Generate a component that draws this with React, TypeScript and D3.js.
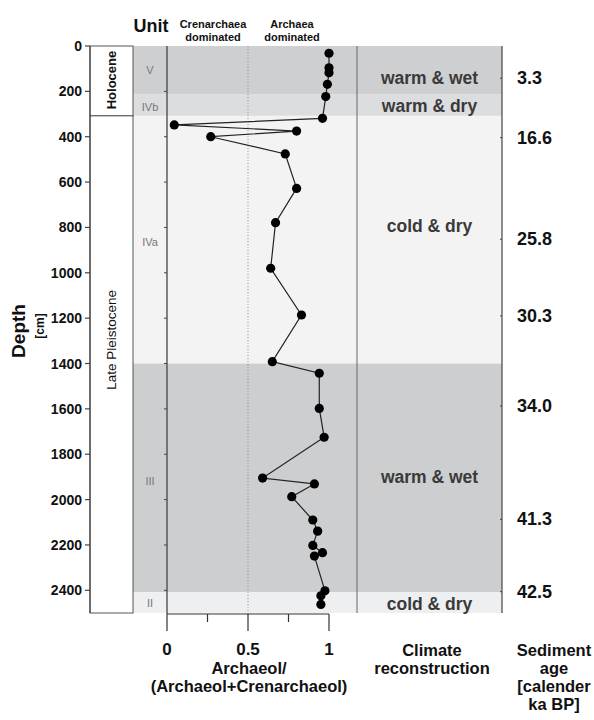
import React from "react";
import * as d3 from "d3";

// sample depth (cm) and archaeol / (archaeol + crenarchaeol)
const sampleDepth = [32, 96, 118, 169, 223, 319, 348, 375, 400, 476, 628, 779, 980, 1186, 1392, 1443, 1598, 1725, 1905, 1931, 1987, 2090, 2139, 2202, 2234, 2249, 2402, 2424, 2462];
const archaeolRatio = [1.0, 1.0, 1.0, 0.99, 0.98, 0.96, 0.045, 0.8, 0.27, 0.73, 0.8, 0.67, 0.64, 0.83, 0.65, 0.94, 0.94, 0.97, 0.59, 0.91, 0.77, 0.9, 0.93, 0.9, 0.96, 0.91, 0.975, 0.95, 0.95];

const unitNames = ["V", "IVb", "IVa", "III", "II"];
const unitTop = [0, 212, 308, 1400, 2408];
const unitBottom = [212, 308, 1400, 2408, 2500];
const unitLabelDepth = [106, 269, 864, 1918, 2456];

const climateNames = ["warm & wet", "warm & dry", "cold & dry", "warm & wet", "cold & dry"];
const climateLabelDepth = [141, 265, 794, 1900, 2462];

const epochNames = ["Holocene", "Late Pleistocene"];
const epochTop = [0, 308];
const epochBottom = [308, 2500];
const epochLabelDepth = [150, 1296];

const ageLabels = ["3.3", "16.6", "25.8", "30.3", "34.0", "41.3", "42.5"];
const ageDepth = [142, 404, 852, 1190, 1587, 2087, 2406];

const depthTicks = [0, 200, 400, 600, 800, 1000, 1200, 1400, 1600, 1800, 2000, 2200, 2400];
const ratioTicks = [0, 0.25, 0.5, 0.75, 1];
const ratioTickLabels = ["0", "", "0.5", "", "1"];

const bandColors = ["#cecfd1", "#dcdddf", "#f3f3f3", "#cdcecf", "#eeeff1"];

const FONT = "Arial, 'Liberation Sans', Helvetica, sans-serif";

export default function App() {
  const width = 594;
  const height = 720;

  const y = d3.scaleLinear().domain([0, 2500]).range([46, 613]);
  const x = d3.scaleLinear().domain([0, 1]).range([167, 329]);

  const depthAxisX = 90;
  const unitColX = 133;
  const climateX = 357;
  const ageAxisX = 502;
  const axisY = 614;

  const points = sampleDepth.map((d, i) => [x(archaeolRatio[i]), y(d)] as [number, number]);
  const line = d3.line()(points);

  return (
    <svg
      width={width}
      height={height}
      style={{ position: "absolute", left: 0, top: 0, background: "#fff" }}
      fontFamily={FONT}
    >
      {/* unit / climate bands */}
      {unitNames.map((u, i) => (
        <rect
          key={u}
          x={unitColX}
          y={y(unitTop[i])}
          width={ageAxisX - unitColX}
          height={y(unitBottom[i]) - y(unitTop[i])}
          fill={bandColors[i]}
        />
      ))}

      {/* epoch column */}
      {epochNames.map((e, i) => (
        <rect
          key={e}
          x={depthAxisX}
          y={y(epochTop[i])}
          width={unitColX - depthAxisX}
          height={y(epochBottom[i]) - y(epochTop[i])}
          fill="#fff"
          stroke="#555"
          strokeWidth={1}
        />
      ))}
      {epochNames.map((e, i) => (
        <text
          key={e}
          transform={`translate(${(depthAxisX + unitColX) / 2},${y(epochLabelDepth[i])}) rotate(-90)`}
          textAnchor="middle"
          dominantBaseline="central"
          fontSize={i === 0 ? 13 : 13.5}
          fontWeight={i === 0 ? "bold" : "normal"}
          fill="#111"
        >
          {e}
        </text>
      ))}

      {/* unit labels */}
      {unitNames.map((u, i) => (
        <text
          key={u}
          x={(unitColX + 167) / 2}
          y={y(unitLabelDepth[i])}
          textAnchor="middle"
          dominantBaseline="central"
          fontSize={11}
          fill="#777"
        >
          {u}
        </text>
      ))}

      {/* depth axis */}
      <line x1={depthAxisX} x2={depthAxisX} y1={y(0)} y2={y(2500)} stroke="#444" strokeWidth={1.2} />
      {depthTicks.map((t) => (
        <g key={t}>
          <line x1={depthAxisX - 5} x2={depthAxisX} y1={y(t)} y2={y(t)} stroke="#444" strokeWidth={1.2} />
          <text
            x={depthAxisX - 8}
            y={y(t)}
            textAnchor="end"
            dominantBaseline="central"
            fontSize={14}
            fontWeight="bold"
            fill="#111"
          >
            {t}
          </text>
        </g>
      ))}
      <text
        transform={`translate(18,331) rotate(-90)`}
        textAnchor="middle"
        dominantBaseline="central"
        fontSize={19}
        fontWeight="bold"
        fill="#111"
      >
        Depth
      </text>
      <text
        transform={`translate(40,326) rotate(-90)`}
        textAnchor="middle"
        dominantBaseline="central"
        fontSize={12}
        fontWeight="bold"
        fill="#111"
      >
        [cm]
      </text>

      {/* 0.5 reference */}
      <line x1={x(0.5)} x2={x(0.5)} y1={y(0)} y2={axisY} stroke="#888" strokeWidth={0.8} strokeDasharray="1.2,1.8" />

      {/* ratio plot left axis */}
      <line x1={x(0)} x2={x(0)} y1={y(0)} y2={axisY} stroke="#444" strokeWidth={1.3} />
      {depthTicks.slice(1).map((t) => (
        <line key={t} x1={x(0) - 3} x2={x(0)} y1={y(t)} y2={y(t)} stroke="#444" strokeWidth={1} />
      ))}

      {/* climate separator and age axis */}
      <line x1={climateX} x2={climateX} y1={y(0)} y2={y(2500)} stroke="#666" strokeWidth={1} />
      <line x1={ageAxisX} x2={ageAxisX} y1={y(0)} y2={y(2500)} stroke="#444" strokeWidth={1.2} />
      {ageDepth.map((d, i) => (
        <g key={ageLabels[i]}>
          <line x1={ageAxisX - 2} x2={ageAxisX} y1={y(d)} y2={y(d)} stroke="#444" strokeWidth={1} />
          <text
            x={ageAxisX + 15}
            y={y(d)}
            dominantBaseline="central"
            fontSize={18}
            fontWeight="bold"
            fill="#111"
          >
            {ageLabels[i]}
          </text>
        </g>
      ))}

      {/* climate labels */}
      {climateNames.map((c, i) => (
        <text
          key={i}
          x={(climateX + ageAxisX) / 2}
          y={y(climateLabelDepth[i])}
          textAnchor="middle"
          dominantBaseline="central"
          fontSize={17.5}
          fontWeight="bold"
          fill="#3a3a3a"
        >
          {c}
        </text>
      ))}

      {/* data */}
      <path d={line ?? ""} fill="none" stroke="#222" strokeWidth={1.2} />
      {points.map((p, i) => (
        <circle key={i} cx={p[0]} cy={p[1]} r={4.6} fill="#000" />
      ))}

      {/* bottom axis */}
      <line x1={x(0)} x2={x(1)} y1={axisY} y2={axisY} stroke="#333" strokeWidth={1.2} />
      {ratioTicks.map((t, i) => (
        <g key={t}>
          <line
            x1={x(t)}
            x2={x(t)}
            y1={axisY}
            y2={axisY + (ratioTickLabels[i] ? 17 : 8)}
            stroke="#333"
            strokeWidth={1.2}
          />
          {ratioTickLabels[i] && (
            <text x={x(t)} y={655} textAnchor="middle" fontSize={17} fontWeight="bold" fill="#111">
              {ratioTickLabels[i]}
            </text>
          )}
        </g>
      ))}

      {/* top headers */}
      <text x={151} y={32} textAnchor="middle" fontSize={18} fontWeight="bold" fill="#111">
        Unit
      </text>
      <text x={213} y={28} textAnchor="middle" fontSize={11} fontWeight="bold" fill="#111">
        Crenarchaea
      </text>
      <text x={213} y={40.5} textAnchor="middle" fontSize={11} fontWeight="bold" fill="#111">
        dominated
      </text>
      <text x={292} y={28} textAnchor="middle" fontSize={11} fontWeight="bold" fill="#111">
        Archaea
      </text>
      <text x={292} y={40.5} textAnchor="middle" fontSize={11} fontWeight="bold" fill="#111">
        dominated
      </text>

      {/* bottom titles */}
      <g fontSize={16.5} fontWeight="bold" fill="#111" textAnchor="middle">
        <text x={249} y={674}>Archaeol/</text>
        <text x={249} y={692}>(Archaeol+Crenarchaeol)</text>
        <text x={432} y={656}>Climate</text>
        <text x={432} y={674}>reconstruction</text>
        <text x={554} y={656}>Sediment</text>
        <text x={554} y={674}>age</text>
        <text x={554} y={692}>[calender</text>
        <text x={554} y={710}>ka BP]</text>
      </g>
    </svg>
  );
}
